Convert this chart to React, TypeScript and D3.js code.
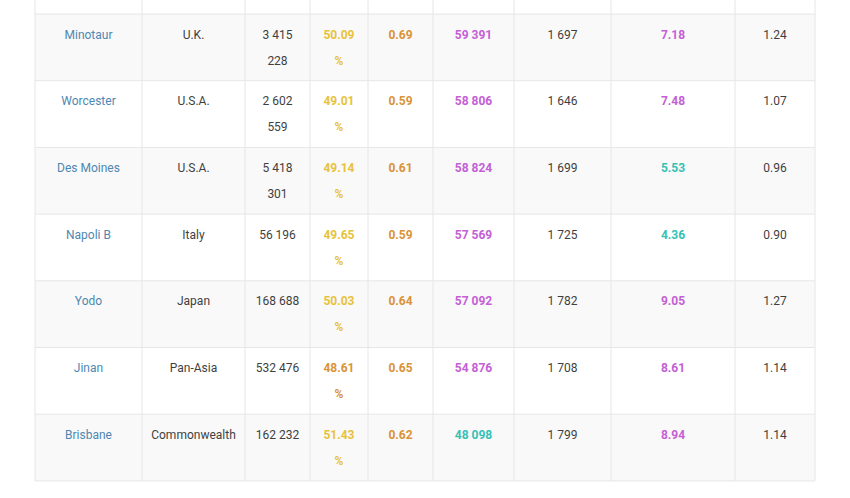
import React from "react";
import * as d3 from "d3";

const names = ["Minotaur", "Worcester", "Des Moines", "Napoli B", "Yodo", "Jinan", "Brisbane"];
const countries = ["U.K.", "U.S.A.", "U.S.A.", "Italy", "Japan", "Pan-Asia", "Commonwealth"];
const battles = [3415228, 2602559, 5418301, 56196, 168688, 532476, 162232];
const winRates = [50.09, 49.01, 49.14, 49.65, 50.03, 48.61, 51.43];
const ratios = [0.69, 0.59, 0.61, 0.59, 0.64, 0.65, 0.62];
const damages = [59391, 58806, 58824, 57569, 57092, 54876, 48098];
const experience = [1697, 1646, 1699, 1725, 1782, 1708, 1799];
const kills = [7.18, 7.48, 5.53, 4.36, 9.05, 8.61, 8.94];
const survival = [1.24, 1.07, 0.96, 0.9, 1.27, 1.14, 1.14];

const W = 850;
const H = 498;
const colEdges = [35, 142, 245, 310, 368, 433, 514, 611, 735, 815];
const tableTop = 14;
const rowH = 66.7;
const PAD = 8;
const LINE = 26;

const BLUE = "#4f87b0";
const DARK = "#3f3f3f";
const YELLOW = "#e8c23c";
const ORANGE = "#da9338";
const PURPLE = "#c460d6";
const TEAL = "#36c1b6";
const BORDER = "#e6e6e6";

const loc = d3.formatLocale({ decimal: ".", thousands: " ", grouping: [3], currency: ["", ""] });
const fInt = loc.format(",d");
const f2 = d3.format(".2f");

let ctx: CanvasRenderingContext2D | null = null;
function measure(text: string, font: string) {
  if (!ctx) ctx = document.createElement("canvas").getContext("2d");
  ctx!.font = font;
  return ctx!.measureText(text).width;
}
function wrap(text: string, width: number, font: string) {
  const words = text.split(" ");
  const lines: string[] = [];
  let cur = "";
  for (const w of words) {
    const t = cur ? cur + " " + w : w;
    if (cur && measure(t, font) > width) {
      lines.push(cur);
      cur = w;
    } else cur = t;
  }
  if (cur) lines.push(cur);
  return lines;
}

type Cell = { text: string; color: string; bold: boolean };

export default function App() {
  const rows: Cell[][] = names.map((n, i) => [
    { text: n, color: BLUE, bold: false },
    { text: countries[i], color: DARK, bold: false },
    { text: fInt(battles[i]), color: DARK, bold: false },
    { text: f2(winRates[i]) + " %", color: winRates[i] < 49 ? ORANGE : YELLOW, bold: true },
    { text: f2(ratios[i]), color: ORANGE, bold: true },
    { text: fInt(damages[i]), color: damages[i] < 50000 ? TEAL : PURPLE, bold: true },
    { text: fInt(experience[i]), color: DARK, bold: false },
    { text: f2(kills[i]), color: kills[i] < 6 ? TEAL : PURPLE, bold: true },
    { text: f2(survival[i]), color: DARK, bold: false },
  ]);

  const y = (i: number) => tableTop + i * rowH;
  const bottom = y(names.length);

  return (
    <svg
      width={W}
      height={H}
      style={{ position: "absolute", left: 0, top: 0, background: "#fff" }}
      fontFamily="Roboto, sans-serif"
      fontSize={12}
    >
      {rows.map((r, i) => (
        <rect key={"bg" + i} x={colEdges[0]} y={y(i)} width={colEdges[colEdges.length - 1] - colEdges[0]} height={rowH} fill={i % 2 === 0 ? "#f9f9f9" : "#ffffff"} />
      ))}
      {d3.range(names.length + 1).map((i) => (
        <line key={"h" + i} x1={colEdges[0]} x2={colEdges[colEdges.length - 1]} y1={y(i)} y2={y(i)} stroke={BORDER} strokeWidth={1} />
      ))}
      {colEdges.map((x, j) => (
        <line key={"v" + j} x1={x} x2={x} y1={-10} y2={bottom} stroke={BORDER} strokeWidth={1} />
      ))}
      {rows.map((r, i) =>
        r.map((c, j) => {
          const x0 = colEdges[j];
          const x1 = colEdges[j + 1];
          const font = `${c.bold ? 700 : 400} 12px Roboto`;
          const lines = wrap(c.text, x1 - x0 - 2 * PAD, font);
          return (
            <text
              key={`t${i}-${j}`}
              x={(x0 + x1) / 2}
              textAnchor="middle"
              fill={c.color}
              fontWeight={c.bold ? 700 : 400}
            >
              {lines.map((l, k) => (
                <tspan key={k} x={(x0 + x1) / 2} y={y(i) + 24.5 + k * LINE}>
                  {l}
                </tspan>
              ))}
            </text>
          );
        })
      )}
    </svg>
  );
}
